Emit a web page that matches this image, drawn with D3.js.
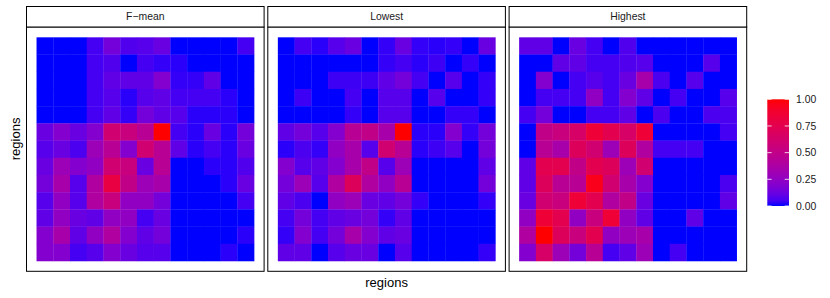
<!DOCTYPE html>
<html>
<head>
<meta charset="utf-8">
<script src="https://cdn.jsdelivr.net/npm/d3@7"></script>
<style>
	body { margin: 0; background: #fff; }
	svg { font-family: "Liberation Sans", Arial, sans-serif; }
</style>
</head>
<body>
<svg width="830" height="298"></svg>
<script>
const regions = d3.range(1, 14).map(String);
const facets = ["F\u2212mean", "Lowest", "Highest"];
const legendTicks = [0, 0.25, 0.5, 0.75, 1];

// rows top to bottom, columns left to right
const fmean = [
	[0, 0, 0, 0.05, 0.15, 0.07, 0.08, 0.12, 0, 0, 0, 0, 0.05],
	[0, 0, 0, 0.05, 0.07, 0, 0.05, 0.03, 0.02, 0, 0, 0, 0],
	[0, 0, 0, 0.05, 0.1, 0.1, 0.1, 0.2, 0.03, 0.03, 0.1, 0, 0],
	[0, 0, 0, 0.05, 0.08, 0.02, 0.08, 0.1, 0.05, 0.05, 0.05, 0.02, 0],
	[0, 0, 0, 0.05, 0.1, 0.03, 0.15, 0.1, 0.08, 0.02, 0.02, 0.02, 0],
	[0.12, 0.2, 0.12, 0.2, 0.6, 0.55, 0.45, 1.0, 0.05, 0.02, 0.12, 0.02, 0.15],
	[0.08, 0.12, 0.06, 0.3, 0.45, 0.2, 0.6, 0.45, 0.1, 0.02, 0.05, 0.02, 0.12],
	[0.12, 0.3, 0.2, 0.25, 0.6, 0.55, 0.12, 0.45, 0, 0, 0.02, 0.02, 0.07],
	[0.15, 0.35, 0.08, 0.4, 0.8, 0.5, 0.3, 0.35, 0, 0, 0, 0.02, 0.12],
	[0.08, 0.25, 0.08, 0.4, 0.55, 0.25, 0.25, 0.15, 0, 0, 0, 0, 0.05],
	[0.1, 0.25, 0.12, 0.1, 0.25, 0.25, 0.05, 0.12, 0, 0, 0, 0, 0],
	[0.2, 0.35, 0.1, 0.25, 0.4, 0.2, 0.1, 0.15, 0, 0, 0, 0, 0.02],
	[0.2, 0.2, 0.05, 0.08, 0.2, 0.12, 0.08, 0.08, 0, 0, 0, 0.02, 0]
];
const lowest = [
	[0, 0.05, 0.02, 0.08, 0.12, 0, 0.03, 0.12, 0.03, 0.02, 0.03, 0, 0.12],
	[0, 0, 0, 0, 0, 0, 0.03, 0.05, 0.02, 0.04, 0, 0.03, 0],
	[0, 0, 0, 0.04, 0.04, 0.04, 0.1, 0.15, 0.05, 0, 0.08, 0, 0.03],
	[0, 0.04, 0, 0, 0.05, 0, 0.08, 0.08, 0, 0.08, 0, 0, 0.03],
	[0, 0, 0, 0, 0.03, 0, 0.08, 0.08, 0, 0, 0.03, 0.03, 0],
	[0.1, 0.15, 0.08, 0.2, 0.45, 0.5, 0.35, 1.0, 0.02, 0.02, 0.2, 0.03, 0.15],
	[0.02, 0.06, 0.03, 0.25, 0.35, 0.08, 0.6, 0.45, 0.02, 0.04, 0.08, 0, 0.15],
	[0.2, 0.08, 0.1, 0.2, 0.35, 0.5, 0.08, 0.3, 0, 0, 0, 0, 0.1],
	[0.15, 0.3, 0.08, 0.4, 0.7, 0.4, 0.25, 0.45, 0, 0, 0, 0, 0.15],
	[0.1, 0.06, 0, 0.25, 0.3, 0.12, 0.1, 0.15, 0.03, 0, 0, 0, 0.03],
	[0.05, 0.15, 0.05, 0.1, 0.12, 0.15, 0.03, 0.1, 0, 0, 0, 0, 0],
	[0.03, 0.2, 0.05, 0.15, 0.35, 0.2, 0.1, 0.12, 0, 0, 0, 0, 0],
	[0.1, 0.1, 0, 0.08, 0.12, 0.12, 0, 0.08, 0, 0, 0, 0, 0.03]
];
const highest = [
	[0.1, 0.1, 0, 0.12, 0.05, 0, 0.07, 0, 0, 0, 0, 0, 0],
	[0, 0, 0.1, 0.1, 0.05, 0.05, 0.07, 0.08, 0, 0, 0, 0.08, 0],
	[0, 0.2, 0, 0.05, 0.08, 0.05, 0.12, 0.35, 0.06, 0, 0.08, 0, 0],
	[0, 0.05, 0.05, 0.05, 0.25, 0.05, 0.2, 0.1, 0, 0.05, 0, 0, 0.08],
	[0.05, 0.15, 0, 0, 0.05, 0.05, 0.1, 0, 0.06, 0, 0, 0.06, 0.06],
	[0, 0.5, 0.55, 0.65, 0.85, 0.75, 0.65, 0.85, 0, 0, 0, 0, 0.05],
	[0, 0.45, 0.35, 0.7, 0.6, 0.3, 0.7, 0.4, 0.05, 0.05, 0.05, 0, 0],
	[0.1, 0.75, 0.75, 0.5, 0.75, 0.7, 0.3, 0.6, 0, 0, 0, 0, 0],
	[0.1, 0.7, 0.45, 0.45, 0.95, 0.6, 0.35, 0.2, 0, 0, 0, 0, 0.06],
	[0.12, 0.6, 0.55, 0.85, 0.75, 0.4, 0.5, 0.12, 0, 0, 0, 0, 0.1],
	[0.25, 0.85, 0.75, 0.25, 0.55, 0.85, 0.25, 0.1, 0, 0, 0.1, 0, 0],
	[0.4, 1.0, 0.7, 0.55, 0.75, 0.25, 0.3, 0.35, 0, 0, 0, 0, 0],
	[0.2, 0.65, 0.3, 0.15, 0.45, 0.05, 0.1, 0.3, 0, 0.05, 0, 0, 0]
];
const matrices = [fmean, lowest, highest];

const svg = d3.select("svg");
const left = 26.5, right = 746.7, gap = 3.7;
const stripTop = 6.5, stripH = 20.5, bottom = 271.3;
const panelW = (right - left - 2 * gap) / 3;
const panelTop = stripTop + stripH;

const colour = d3.scaleLinear()
	.domain([0, 1])
	.range(["#0000FF", "#FF0000"])
	.interpolate(d3.interpolateLab);

const xScale = d3.scaleBand().domain(regions).range([0, panelW]).paddingInner(0).paddingOuter(0.6);
const yScale = d3.scaleBand().domain(regions).range([0, bottom - panelTop]).paddingInner(0).paddingOuter(0.6);

facets.forEach((name, k) => {
	const x0 = left + k * (panelW + gap);
	const g = svg.append("g").attr("transform", "translate(" + x0 + "," + panelTop + ")");

	// cells
	matrices[k].forEach((row, i) => {
		row.forEach((v, j) => {
			g.append("rect")
				.attr("x", xScale(regions[j]))
				.attr("y", yScale(regions[i]))
				.attr("width", xScale.bandwidth() + 0.3)
				.attr("height", yScale.bandwidth() + 0.3)
				.attr("fill", colour(v));
		});
	});

	// panel border
	g.append("rect")
		.attr("x", 0).attr("y", 0)
		.attr("width", panelW).attr("height", bottom - panelTop)
		.attr("fill", "none").attr("stroke", "#000").attr("stroke-width", 1);

	// strip
	const s = svg.append("g").attr("transform", "translate(" + x0 + "," + stripTop + ")");
	s.append("rect")
		.attr("width", panelW).attr("height", stripH)
		.attr("fill", "#fff").attr("stroke", "#000").attr("stroke-width", 1);
	s.append("text")
		.attr("x", panelW / 2).attr("y", stripH / 2 + 3.7)
		.attr("text-anchor", "middle")
		.attr("font-size", "10.4px")
		.attr("fill", "#1a1a1a")
		.text(name);
});

// axis titles
svg.append("text")
	.attr("x", (left + right) / 2).attr("y", 287)
	.attr("text-anchor", "middle").attr("font-size", "13px")
	.text("regions");
svg.append("text")
	.attr("transform", "translate(19.5," + (stripTop + bottom) / 2 + ") rotate(-90)")
	.attr("text-anchor", "middle").attr("font-size", "13px")
	.text("regions");

// legend
const barX = 767.3, barW = 21.7, barTop = 99.3, barH = 106.7;
const grad = svg.append("defs").append("linearGradient")
	.attr("id", "grad").attr("x1", 0).attr("y1", 1).attr("x2", 0).attr("y2", 0);
d3.range(0, 1.0001, 0.05).forEach((t) => {
	grad.append("stop").attr("offset", t).attr("stop-color", colour(t));
});
svg.append("rect")
	.attr("x", barX).attr("y", barTop)
	.attr("width", barW).attr("height", barH)
	.attr("fill", "url(#grad)");
const lScale = d3.scaleLinear().domain([0, 1]).range([barTop + barH, barTop]);
legendTicks.forEach((t) => {
	const y = lScale(t);
	svg.append("line")
		.attr("x1", barX).attr("x2", barX + 4.3).attr("y1", y).attr("y2", y)
		.attr("stroke", "#fff").attr("stroke-width", 0.8);
	svg.append("line")
		.attr("x1", barX + barW - 4.3).attr("x2", barX + barW).attr("y1", y).attr("y2", y)
		.attr("stroke", "#fff").attr("stroke-width", 0.8);
	svg.append("text")
		.attr("x", 796).attr("y", y + 3.7)
		.attr("font-size", "10.4px").attr("fill", "#1a1a1a")
		.text(d3.format(".2f")(t));
});
</script>
</body>
</html>
